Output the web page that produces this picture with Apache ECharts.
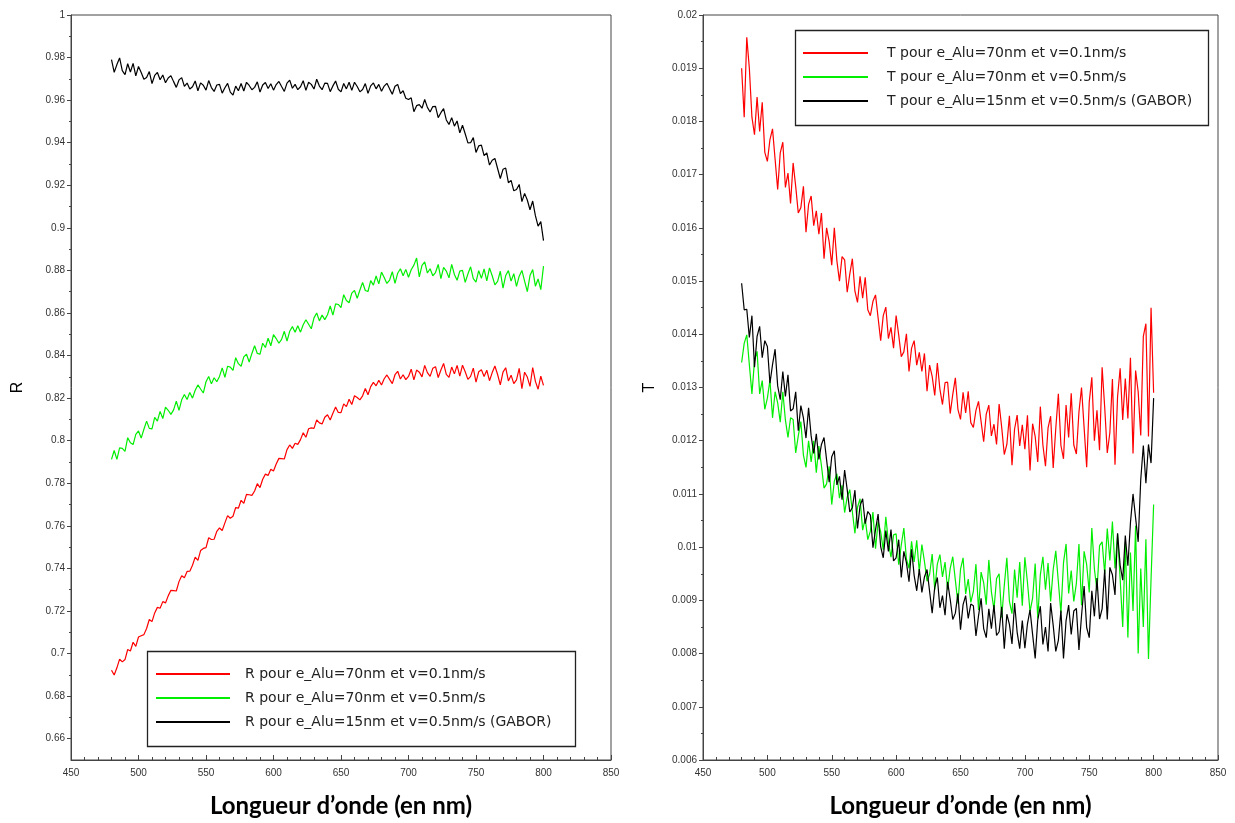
<!DOCTYPE html>
<html><head><meta charset="utf-8">
<script src="https://cdn.jsdelivr.net/npm/echarts@6/dist/echarts.min.js"></script>
<style>html,body{margin:0;padding:0;background:#fff}#c{width:1235px;height:823px}</style>
</head><body><div id="c"></div>
<script>
const wavelength = [
480,482,484,486,488,490,492,494,496,498,
500,502,504,506,508,510,512,514,516,518,
520,522,524,526,528,530,532,534,536,538,
540,542,544,546,548,550,552,554,556,558,
560,562,564,566,568,570,572,574,576,578,
580,582,584,586,588,590,592,594,596,598,
600,602,604,606,608,610,612,614,616,618,
620,622,624,626,628,630,632,634,636,638,
640,642,644,646,648,650,652,654,656,658,
660,662,664,666,668,670,672,674,676,678,
680,682,684,686,688,690,692,694,696,698,
700,702,704,706,708,710,712,714,716,718,
720,722,724,726,728,730,732,734,736,738,
740,742,744,746,748,750,752,754,756,758,
760,762,764,766,768,770,772,774,776,778,
780,782,784,786,788,790,792,794,796,798,
800];

// Réflexion R
const R_red = [
0.6922,0.6899,0.6933,0.6974,0.6961,0.6972,0.7019,0.7012,0.7053,0.7034,
0.7078,0.7084,0.7089,0.7118,0.7160,0.7150,0.7191,0.7217,0.7213,0.7244,
0.7238,0.7271,0.7297,0.7296,0.7294,0.7338,0.7366,0.7356,0.7386,0.7387,
0.7415,0.7453,0.7438,0.7484,0.7494,0.7498,0.7544,0.7536,0.7537,0.7574,
0.7590,0.7578,0.7614,0.7648,0.7636,0.7645,0.7686,0.7683,0.7720,0.7706,
0.7748,0.7746,0.7743,0.7764,0.7798,0.7780,0.7819,0.7843,0.7837,0.7866,
0.7858,0.7891,0.7917,0.7916,0.7914,0.7958,0.7980,0.7964,0.7988,0.7983,
0.8005,0.8037,0.8016,0.8056,0.8060,0.8058,0.8098,0.8084,0.8079,0.8110,
0.8122,0.8097,0.8129,0.8158,0.8133,0.8132,0.8173,0.8160,0.8195,0.8170,
0.8211,0.8203,0.8192,0.8211,0.8245,0.8216,0.8254,0.8274,0.8258,0.8284,
0.8262,0.8291,0.8309,0.8288,0.8268,0.8310,0.8326,0.8290,0.8310,0.8287,
0.8302,0.8336,0.8286,0.8332,0.8322,0.8300,0.8354,0.8320,0.8302,0.8340,
0.8348,0.8297,0.8332,0.8363,0.8312,0.8298,0.8346,0.8314,0.8354,0.8303,
0.8355,0.8324,0.8288,0.8302,0.8341,0.8275,0.8324,0.8333,0.8302,0.8331,
0.8282,0.8320,0.8351,0.8311,0.8262,0.8322,0.8343,0.8281,0.8308,0.8268,
0.8286,0.8340,0.8245,0.8322,0.8299,0.8255,0.8344,0.8279,0.8242,0.8303,
0.8260];
const R_green = [
0.7912,0.7954,0.7912,0.7966,0.7964,0.7950,0.8014,0.7990,0.7982,0.8030,
0.8046,0.8012,0.8054,0.8092,0.8058,0.8056,0.8110,0.8092,0.8138,0.8104,
0.8158,0.8143,0.8124,0.8145,0.8186,0.8143,0.8192,0.8217,0.8194,0.8227,
0.8200,0.8237,0.8262,0.8243,0.8224,0.8277,0.8302,0.8267,0.8296,0.8277,
0.8302,0.8342,0.8298,0.8350,0.8346,0.8330,0.8390,0.8362,0.8350,0.8394,
0.8406,0.8370,0.8410,0.8446,0.8410,0.8406,0.8458,0.8438,0.8482,0.8446,
0.8498,0.8480,0.8458,0.8476,0.8514,0.8468,0.8514,0.8536,0.8510,0.8540,
0.8510,0.8545,0.8568,0.8547,0.8526,0.8577,0.8600,0.8563,0.8590,0.8569,
0.8592,0.8633,0.8590,0.8643,0.8640,0.8625,0.8686,0.8659,0.8648,0.8693,
0.8706,0.8669,0.8708,0.8743,0.8706,0.8701,0.8752,0.8731,0.8774,0.8737,
0.8792,0.8767,0.8739,0.8755,0.8794,0.8739,0.8787,0.8808,0.8775,0.8805,
0.8768,0.8803,0.8825,0.8858,0.8770,0.8824,0.8840,0.8788,0.8808,0.8775,
0.8790,0.8828,0.8761,0.8814,0.8797,0.8765,0.8828,0.8781,0.8754,0.8797,
0.8800,0.8744,0.8783,0.8817,0.8761,0.8745,0.8799,0.8763,0.8807,0.8751,
0.8812,0.8775,0.8732,0.8749,0.8796,0.8717,0.8776,0.8799,0.8750,0.8785,
0.8725,0.8773,0.8800,0.8750,0.8700,0.8776,0.8804,0.8726,0.8760,0.8710,
0.8820];
const R_black = [
0.9790,0.9731,0.9767,0.9798,0.9739,0.9720,0.9771,0.9732,0.9773,0.9714,
0.9758,0.9730,0.9698,0.9706,0.9734,0.9678,0.9716,0.9730,0.9696,0.9718,
0.9682,0.9704,0.9715,0.9687,0.9660,0.9695,0.9706,0.9665,0.9680,0.9652,
0.9663,0.9690,0.9644,0.9681,0.9670,0.9647,0.9692,0.9659,0.9641,0.9671,
0.9674,0.9633,0.9658,0.9679,0.9638,0.9624,0.9666,0.9644,0.9678,0.9643,
0.9684,0.9669,0.9649,0.9660,0.9686,0.9638,0.9671,0.9683,0.9655,0.9677,
0.9647,0.9673,0.9688,0.9664,0.9641,0.9680,0.9694,0.9656,0.9674,0.9649,
0.9663,0.9691,0.9646,0.9684,0.9674,0.9652,0.9698,0.9666,0.9649,0.9680,
0.9679,0.9640,0.9667,0.9690,0.9651,0.9639,0.9678,0.9653,0.9684,0.9646,
0.9684,0.9664,0.9639,0.9650,0.9678,0.9632,0.9667,0.9681,0.9653,0.9674,
0.9642,0.9666,0.9679,0.9653,0.9628,0.9665,0.9674,0.9631,0.9644,0.9609,
0.9603,0.9611,0.9546,0.9574,0.9579,0.9562,0.9603,0.9566,0.9544,0.9570,
0.9571,0.9518,0.9541,0.9560,0.9507,0.9486,0.9518,0.9478,0.9502,0.9446,
0.9482,0.9442,0.9399,0.9400,0.9424,0.9354,0.9385,0.9389,0.9339,0.9352,
0.9295,0.9318,0.9326,0.9279,0.9232,0.9275,0.9281,0.9212,0.9223,0.9174,
0.9180,0.9204,0.9123,0.9162,0.9131,0.9085,0.9126,0.9057,0.9008,0.9029,
0.8940];

// Transmission T
const T_red = [
0.01900,0.01808,0.01958,0.01900,0.01808,0.01775,0.01846,0.01781,0.01836,0.01742,
0.01725,0.01766,0.01786,0.01729,0.01672,0.01741,0.01761,0.01676,0.01703,0.01646,
0.01722,0.01678,0.01628,0.01638,0.01678,0.01592,0.01644,0.01660,0.01604,0.01632,
0.01588,0.01628,0.01542,0.01600,0.01574,0.01530,0.01600,0.01538,0.01500,0.01546,
0.01540,0.01479,0.01513,0.01542,0.01481,0.01460,0.01509,0.01468,0.01507,0.01446,
0.01435,0.01462,0.01474,0.01431,0.01388,0.01435,0.01451,0.01392,0.01413,0.01374,
0.01435,0.01399,0.01358,0.01367,0.01401,0.01330,0.01374,0.01388,0.01342,0.01366,
0.01330,0.01364,0.01293,0.01342,0.01321,0.01285,0.01346,0.01297,0.01268,0.01309,
0.01310,0.01251,0.01287,0.01318,0.01259,0.01240,0.01291,0.01252,0.01293,0.01234,
0.01225,0.01257,0.01274,0.01236,0.01198,0.01250,0.01267,0.01209,0.01231,0.01193,
0.01269,0.01225,0.01174,0.01193,0.01247,0.01154,0.01222,0.01248,0.01190,0.01230,
0.01184,0.01248,0.01144,0.01232,0.01208,0.01160,0.01264,0.01192,0.01152,0.01224,
0.01246,0.01149,0.01223,0.01288,0.01191,0.01166,0.01267,0.01206,0.01289,0.01192,
0.01175,0.01254,0.01300,0.01225,0.01150,0.01273,0.01319,0.01200,0.01257,0.01182,
0.01338,0.01263,0.01177,0.01215,0.01316,0.01155,0.01283,0.01336,0.01239,0.01317,
0.01242,0.01356,0.01176,0.01332,0.01292,0.01210,0.01396,0.01420,0.01208,0.01450,
0.01290];
const T_green = [
0.01347,0.01383,0.01399,0.01343,0.01288,0.01350,0.01368,0.01288,0.01313,0.01259,
0.01280,0.01314,0.01243,0.01292,0.01271,0.01235,0.01292,0.01239,0.01206,0.01243,
0.01240,0.01177,0.01209,0.01236,0.01173,0.01150,0.01200,0.01160,0.01200,0.01140,
0.01190,0.01153,0.01111,0.01119,0.01152,0.01080,0.01124,0.01138,0.01092,0.01116,
0.01065,0.01094,0.01108,0.01067,0.01026,0.01075,0.01091,0.01032,0.01053,0.01014,
0.01030,0.01066,0.00997,0.01048,0.01029,0.00995,0.01057,0.01009,0.00981,0.01023,
0.01025,0.00967,0.01004,0.01036,0.00978,0.00960,0.01011,0.00972,0.01013,0.00954,
0.01005,0.00973,0.00936,0.00949,0.00987,0.00920,0.00968,0.00986,0.00944,0.00972,
0.00920,0.00960,0.00982,0.00938,0.00894,0.00958,0.00980,0.00912,0.00940,0.00896,
0.00917,0.00968,0.00882,0.00953,0.00933,0.00892,0.00976,0.00916,0.00883,0.00941,
0.00950,0.00868,0.00928,0.00980,0.00898,0.00875,0.00958,0.00905,0.00972,0.00890,
0.00981,0.00934,0.00879,0.00904,0.00969,0.00866,0.00948,0.00982,0.00920,0.00970,
0.00898,0.00958,0.00993,0.00935,0.00876,0.00971,0.01006,0.00913,0.00956,0.00898,
0.00932,0.01006,0.00891,0.00992,0.00967,0.00915,0.01036,0.00959,0.00918,0.01003,
0.01010,0.00950,0.01035,0.00975,0.01048,0.00960,0.01025,0.00940,0.00850,0.01010,
0.00830,0.00990,0.00880,0.01040,0.00800,0.00960,0.00850,0.01015,0.00790,0.00940,
0.01080];
const T_black = [
0.01496,0.01446,0.01447,0.01394,0.01435,0.01338,0.01396,0.01415,0.01356,0.01388,
0.01377,0.01308,0.01343,0.01372,0.01303,0.01277,0.01330,0.01283,0.01324,0.01256,
0.01260,0.01292,0.01219,0.01266,0.01243,0.01205,0.01262,0.01209,0.01176,0.01213,
0.01165,0.01193,0.01206,0.01164,0.01122,0.01170,0.01181,0.01117,0.01133,0.01089,
0.01145,0.01108,0.01066,0.01074,0.01107,0.01035,0.01078,0.01091,0.01044,0.01067,
0.01060,0.00999,0.01033,0.01062,0.01001,0.00980,0.01031,0.00992,0.01033,0.00974,
0.00980,0.01014,0.00943,0.00992,0.00971,0.00935,0.00996,0.00947,0.00918,0.00959,
0.00915,0.00944,0.00958,0.00917,0.00876,0.00925,0.00943,0.00886,0.00909,0.00872,
0.00935,0.00902,0.00864,0.00876,0.00913,0.00845,0.00892,0.00909,0.00866,0.00893,
0.00890,0.00833,0.00871,0.00904,0.00847,0.00830,0.00884,0.00847,0.00891,0.00834,
0.00841,0.00888,0.00809,0.00874,0.00855,0.00818,0.00895,0.00840,0.00809,0.00862,
0.00810,0.00856,0.00882,0.00836,0.00791,0.00863,0.00889,0.00817,0.00850,0.00804,
0.00895,0.00853,0.00804,0.00825,0.00881,0.00791,0.00862,0.00891,0.00836,0.00880,
0.00885,0.00807,0.00871,0.00927,0.00849,0.00830,0.00918,0.00870,0.00942,0.00865,
0.00884,0.00958,0.00864,0.00962,0.00948,0.00910,0.01026,0.00966,0.00938,0.01022,
0.00965,0.01046,0.01100,0.01055,0.01010,0.01127,0.01191,0.01120,0.01193,0.01158,
0.01280];

const R_names = ['R pour e_Alu=70nm et v=0.1nm/s','R pour e_Alu=70nm et v=0.5nm/s','R pour e_Alu=15nm et v=0.5nm/s (GABOR)'];
const T_names = ['T pour e_Alu=70nm et v=0.1nm/s','T pour e_Alu=70nm et v=0.5nm/s','T pour e_Alu=15nm et v=0.5nm/s (GABOR)'];
const colors = ['#ff0000','#00ee00','#000000'];
const R_ticks = [0.66,0.68,0.7,0.72,0.74,0.76,0.78,0.8,0.82,0.84,0.86,0.88,0.9,0.92,0.94,0.96,0.98,1];
const R_minor = [0.67,0.69,0.71,0.73,0.75,0.77,0.79,0.81,0.83,0.85,0.87,0.89,0.91,0.93,0.95,0.97,0.99];

const pairs = arr => wavelength.map((w, i) => [w, arr[i]]);
const labelStyle = {fontSize: 10, color: '#333', fontFamily: 'Liberation Sans'};
const lineCol = '#444';
const xAxisBase = (gi) => ({
  gridIndex: gi, type: 'value', min: 450, max: 850, interval: 50,
  axisLine: {lineStyle: {color: lineCol}},
  axisTick: {inside: true, length: 5, lineStyle: {color: lineCol}},
  minorTick: {show: true, splitNumber: 5, length: 3, lineStyle: {color: lineCol}},
  splitLine: {show: false},
  axisLabel: Object.assign({margin: 8}, labelStyle),
  name: 'Longueur d\u2019onde (en nm)', nameLocation: 'middle', nameGap: 34,
  nameTextStyle: {fontSize: 24, fontWeight: 'bold', fontFamily: 'Lato', color: '#000'}
});
const mkSeries = (names, arrs, xi, yi) => names.map((n, k) => ({
  name: n, type: 'line', xAxisIndex: xi, yAxisIndex: yi, data: pairs(arrs[k]),
  showSymbol: false, symbol: 'none', silent: true,
  lineStyle: {width: 1.2, color: colors[k]}, itemStyle: {color: colors[k]}
}));
const legendBase = {
  orient: 'vertical', icon: 'rect', itemHeight: 2, itemGap: 10, padding: 0,
  borderWidth: 0,
  textStyle: {fontSize: 14, fontFamily: 'DejaVu Sans', color: '#222', padding: [0, 0, 0, 10]}
};

const chart = echarts.init(document.getElementById('c'), null, {renderer: 'canvas'});
chart.setOption({
  animation: false,
  backgroundColor: '#fff',
  grid: [
    {left: 71, top: 15, width: 540, height: 745, show: true, borderColor: lineCol, borderWidth: 1,
     backgroundColor: 'transparent', outerBoundsMode: 'none', containLabel: false},
    {left: 703, top: 15, width: 515, height: 745, show: true, borderColor: lineCol, borderWidth: 1,
     backgroundColor: 'transparent', outerBoundsMode: 'none', containLabel: false}
  ],
  xAxis: [xAxisBase(0), xAxisBase(1)],
  yAxis: [
    {gridIndex: 0, type: 'value', min: 0.65, max: 1, position: 'left',
     axisLine: {show: true, lineStyle: {color: lineCol}},
     axisTick: {show: true, length: 4, customValues: R_ticks, lineStyle: {color: lineCol}},
     axisLabel: Object.assign({margin: 6, customValues: R_ticks}, labelStyle),
     splitLine: {show: false},
     name: 'R', nameLocation: 'middle', nameGap: 45, nameRotate: 90,
     nameTextStyle: {fontSize: 16, color: '#000', fontFamily: 'Liberation Sans'}},
    {gridIndex: 0, type: 'value', min: 0.65, max: 1, position: 'left', offset: 0,
     axisLine: {show: false},
     axisTick: {show: true, length: 2, customValues: R_minor, lineStyle: {color: lineCol}},
     axisLabel: {show: false}, splitLine: {show: false}},
    {gridIndex: 1, type: 'value', min: 0.006, max: 0.02, interval: 0.001, position: 'left',
     axisLine: {show: true, lineStyle: {color: lineCol}},
     axisTick: {show: true, length: 4, lineStyle: {color: lineCol}},
     minorTick: {show: true, splitNumber: 2, length: 2, lineStyle: {color: lineCol}},
     axisLabel: Object.assign({margin: 6}, labelStyle),
     splitLine: {show: false},
     name: 'T', nameLocation: 'middle', nameGap: 45, nameRotate: 90,
     nameTextStyle: {fontSize: 16, color: '#000', fontFamily: 'Liberation Sans'}}
  ],
  legend: [
    Object.assign({}, legendBase, {data: R_names, left: 156, top: 667, itemWidth: 74}),
    Object.assign({}, legendBase, {data: T_names, left: 803, top: 46, itemWidth: 65, textStyle: Object.assign({}, legendBase.textStyle, {padding: [0, 0, 0, 14]})})
  ],
  graphic: [
    {type: 'rect', silent: true, z: 100, shape: {x: 147.5, y: 651.5, width: 428, height: 95},
     style: {fill: 'none', stroke: '#222', lineWidth: 1.3}},
    {type: 'rect', silent: true, z: 100, shape: {x: 795.5, y: 30.5, width: 413, height: 95},
     style: {fill: 'none', stroke: '#222', lineWidth: 1.3}}
  ],
  series: [].concat(
    mkSeries(R_names, [R_red, R_green, R_black], 0, 0),
    mkSeries(T_names, [T_red, T_green, T_black], 1, 2)
  )
});
</script>
</body></html>
